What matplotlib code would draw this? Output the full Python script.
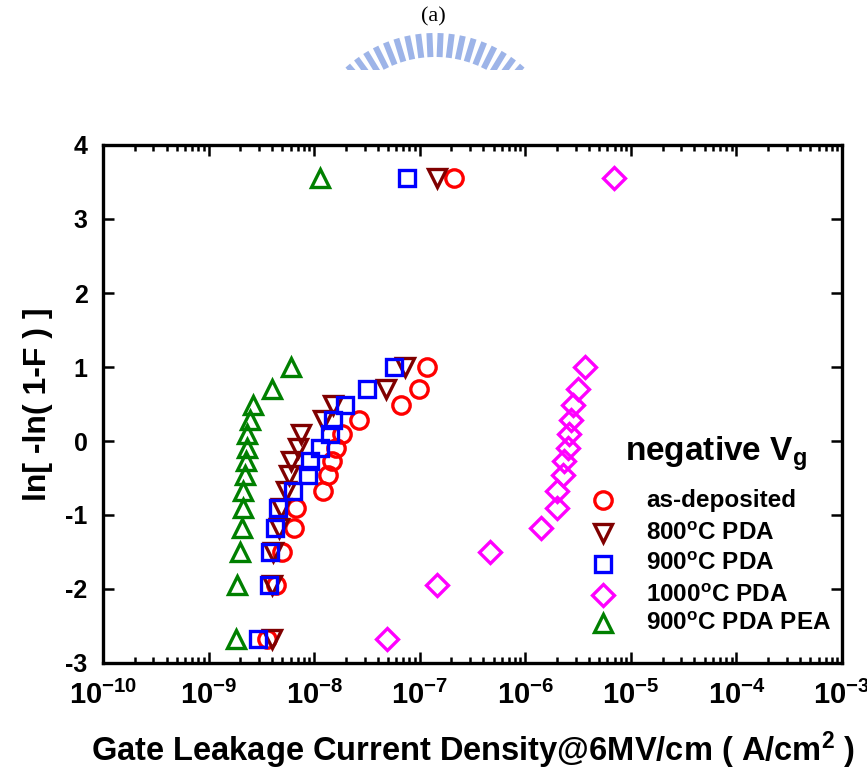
import numpy as np
import matplotlib
matplotlib.use("Agg")
import matplotlib.pyplot as plt
from matplotlib import font_manager
from matplotlib.patches import Wedge, Polygon
from matplotlib.ticker import LogLocator, FixedLocator, NullFormatter

# narrow bold face for the decade labels if the system has it
names = set(f.name for f in font_manager.fontManager.ttflist)
narrow = 'Liberation Sans Narrow' if 'Liberation Sans Narrow' in names else 'Liberation Sans'

plt.rcParams['font.family'] = ['Liberation Sans', 'DejaVu Sans']
plt.rcParams['font.weight'] = 'bold'
plt.rcParams['axes.unicode_minus'] = False
plt.rcParams['mathtext.fontset'] = 'custom'
plt.rcParams['mathtext.rm'] = 'Liberation Sans:bold'
plt.rcParams['mathtext.bf'] = 'Liberation Sans:bold'
plt.rcParams['mathtext.it'] = 'Liberation Sans:bold'
plt.rcParams['mathtext.sf'] = narrow + ':bold'

# Weibull levels ln[-ln(1-F)], shared by every sample (last one is the F=1 point)
weibull_y = [-2.67, -1.94, -1.50, -1.17, -0.90, -0.67, -0.46, -0.27,
             -0.09, 0.09, 0.28, 0.48, 0.70, 1.00, 3.55]

# leakage current density (A/cm2)
as_deposited = [3.55e-9, 4.36e-9, 4.92e-9, 6.38e-9, 6.72e-9, 1.22e-8, 1.34e-8, 1.47e-8,
                1.60e-8, 1.85e-8, 2.66e-8, 6.58e-8, 9.93e-8, 1.17e-7, 2.11e-7]
pda_800 = [3.95e-9, 4.0e-9, 4.05e-9, 4.6e-9, 4.9e-9, 5.4e-9, 5.8e-9, 6.0e-9,
           7.0e-9, 7.5e-9, 1.2e-8, 1.5e-8, 4.8e-8, 7.2e-8, 1.45e-7]
pda_900 = [2.92e-9, 3.76e-9, 3.85e-9, 4.25e-9, 4.54e-9, 6.25e-9, 8.83e-9, 9.1e-9,
           1.14e-8, 1.41e-8, 1.51e-8, 1.96e-8, 3.18e-8, 5.69e-8, 7.6e-8]
pda_1000 = [4.9e-8, 1.46e-7, 4.64e-7, 1.41e-6, 2.0e-6, 1.99e-6, 2.28e-6, 2.32e-6,
            2.55e-6, 2.58e-6, 2.74e-6, 2.84e-6, 3.16e-6, 3.71e-6, 6.9e-6]
pda_900_pea = [1.80e-9, 1.85e-9, 2.0e-9, 2.06e-9, 2.11e-9, 2.11e-9, 2.20e-9, 2.26e-9,
               2.30e-9, 2.32e-9, 2.47e-9, 2.66e-9, 3.99e-9, 6.03e-9, 1.135e-8]

labels = ['as-deposited', r'800$^{\mathbf{o}}$C PDA', r'900$^{\mathbf{o}}$C PDA',
          r'1000$^{\mathbf{o}}$C PDA', r'900$^{\mathbf{o}}$C PDA PEA']
colors = ['#ff0000', '#800000', '#0000ff', '#ff00ff', '#008000']
markers = ['o', 'v', 's', 'D', '^']
sizes = [12.5, 12.5, 11.5, 11, 12.5]
series = [as_deposited, pda_800, pda_900, pda_1000, pda_900_pea]

fig = plt.figure(figsize=(8.67, 7.72), dpi=100)

# watermark (faint school logo) + "(a)"
wm = fig.add_axes([0, 1 - 70 / 772, 1, 70 / 772])
wm.set_xlim(0, 867)
wm.set_ylim(70, 0)
wm.axis('off')
cx, cy, R = 435, 166, 133
wm.add_patch(Wedge((cx, cy), R - 20, 47, 133, width=20, color='#d3def5', lw=0))
for ang in np.linspace(-41, 41, 18):
    a = np.radians(ang)
    ux, uy = np.sin(a), -np.cos(a)
    px, py = np.cos(a), np.sin(a)
    r0, r1, w = R - 24, R, 3.0
    pts = [(cx + ux * r0 - px * w, cy + uy * r0 - py * w),
           (cx + ux * r1 - px * w, cy + uy * r1 - py * w),
           (cx + ux * r1 + px * w, cy + uy * r1 + py * w),
           (cx + ux * r0 + px * w, cy + uy * r0 + py * w)]
    wm.add_patch(Polygon(pts, closed=True, color='#9db4e8', lw=0))
wm.text(433, 17, '(a)', family='Liberation Serif', weight='normal', fontsize=16,
        ha='center', va='center')

ax = fig.add_axes([103 / 867, 1 - 663 / 772, 739 / 867, 518 / 772])

for xs, c, m, s in zip(series, colors, markers, sizes):
    ax.plot(xs, weibull_y, linestyle='none', marker=m, markersize=s,
            markerfacecolor='none', markeredgecolor=c, markeredgewidth=2.4, clip_on=False)

ax.set_xscale('log')
ax.set_xlim(1e-10, 1e-3)
ax.set_ylim(-3, 4)
ax.xaxis.set_minor_locator(LogLocator(base=10, subs=np.arange(2, 10), numticks=20))
ax.xaxis.set_minor_formatter(NullFormatter())
ax.set_xticks([10.0 ** k for k in range(-10, -2)])
ax.set_xticklabels([r'$\mathsf{10^{%d}}$' % k for k in range(-10, -2)])
ax.yaxis.set_major_locator(FixedLocator(range(-3, 5)))

ax.tick_params(which='both', direction='in', top=True, right=True, width=1.8)
ax.tick_params(which='major', length=8)
ax.tick_params(which='minor', length=4)
ax.tick_params(axis='x', which='major', labelsize=21, pad=13)
ax.tick_params(axis='y', which='major', labelsize=18, pad=11)
for sp in ax.spines.values():
    sp.set_linewidth(2.4)

fig.text(473 / 867, 1 - 750 / 772,
         r'Gate Leakage Current Density@6MV/cm ( A/cm$^{\mathbf{2}}$ )',
         fontsize=23.5, fontweight='bold', ha='center', va='center')
ax.set_ylabel('ln[ -ln( 1-F ) ]', fontsize=23, fontweight='bold', labelpad=9)

# legend drawn in axes fraction
lx_m, lx_t = (603 - 103) / 739, (646 - 103) / 739
ax.text((625 - 103) / 739, (663 - 454) / 518, r'negative V$_{\mathbf{g}}$',
        transform=ax.transAxes, fontsize=24, fontweight='bold', va='center', ha='left')
rows = [500, 533, 564, 595, 623]
for lab, c, m, s, py in zip(labels, colors, markers, sizes, rows):
    yy = (663 - py) / 518
    ax.plot([lx_m], [yy], transform=ax.transAxes, linestyle='none', marker=m,
            markersize=s, markerfacecolor='none', markeredgecolor=c, markeredgewidth=2.4)
    ax.text(lx_t, yy, lab, transform=ax.transAxes, fontsize=17.5, fontweight='bold',
            va='center', ha='left')

fig.savefig('out.png', dpi=100)
